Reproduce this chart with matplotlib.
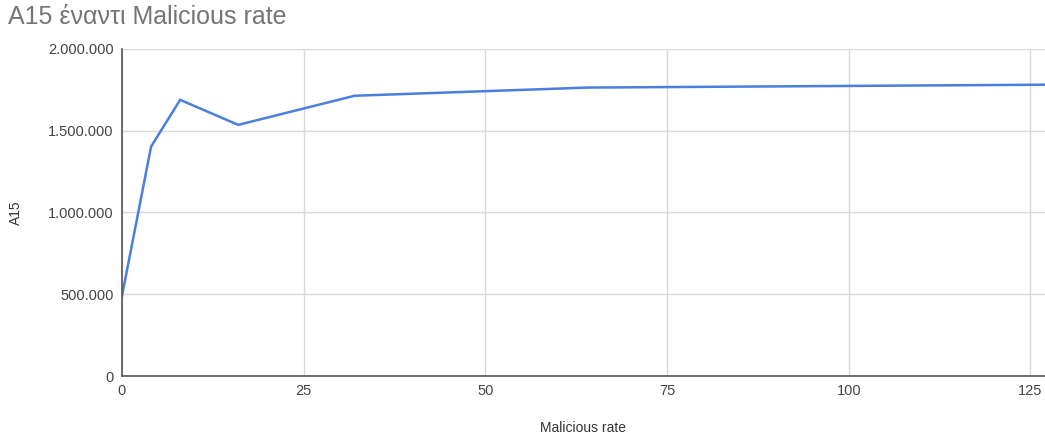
import matplotlib.pyplot as plt
from matplotlib.ticker import FuncFormatter

plt.rcParams['font.family'] = ['Liberation Sans', 'DejaVu Sans']

rate = [0, 4, 8, 16, 32, 64, 128]
a15 = [490000, 1403000, 1689000, 1536000, 1714000, 1764000, 1782000]

fig = plt.figure(figsize=(10.45, 4.36), dpi=100)
ax = fig.add_axes([122 / 1045, 1 - 376 / 436, 1 - 122 / 1045, (376 - 49) / 436])

ax.plot(rate, a15, color='#4a7fe0', linewidth=1.8, solid_joinstyle='miter')

ax.set_xlim(0, 127)
ax.set_ylim(0, 2000000)
ax.set_xticks([0, 25, 50, 75, 100, 125])
ax.set_yticks([0, 500000, 1000000, 1500000, 2000000])
ax.yaxis.set_major_formatter(FuncFormatter(lambda v, p: f"{int(v):,}".replace(",", ".")))

ax.grid(True, color='#d9d9d9', linewidth=1)
ax.set_axisbelow(True)
for s in ['top', 'right']:
    ax.spines[s].set_visible(False)
for s in ['left', 'bottom']:
    ax.spines[s].set_color('#555555')
    ax.spines[s].set_linewidth(1.2)
    ax.spines[s].set_zorder(3)
ax.tick_params(length=0, labelsize=10.5, colors='#444444', pad=6)

ax.set_xlabel('Malicious rate', fontsize=10, color='#333333', labelpad=16)
ax.set_ylabel('A15', fontsize=10, color='#333333', labelpad=18)

fig.text(8 / 1045, 1 - 17 / 436, 'A15 έναντι Malicious rate', fontsize=18,
         color='#757575', va='center', ha='left')

plt.savefig('out.png', dpi=100)
